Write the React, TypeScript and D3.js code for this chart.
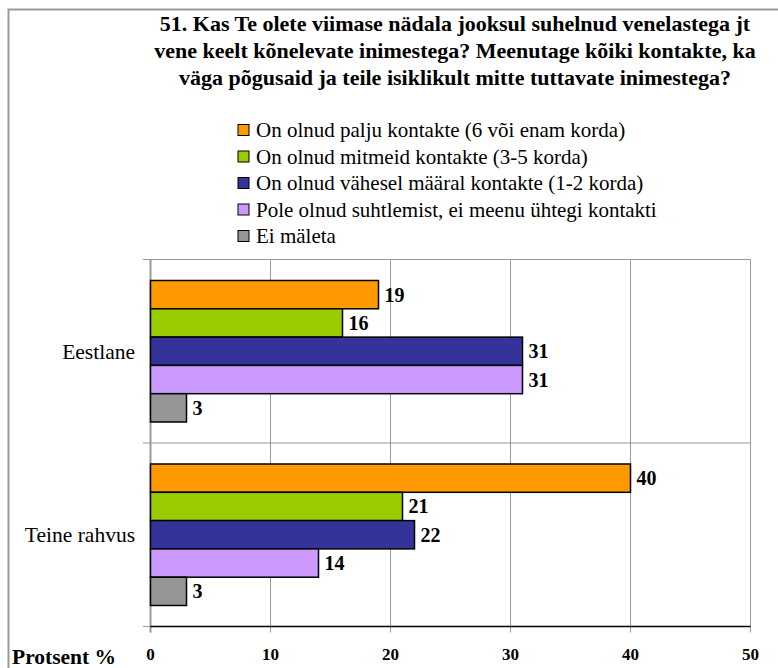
import React from "react";
import * as d3 from "d3";

const categories = ["Eestlane", "Teine rahvus"];
const seriesNames = [
  "On olnud palju kontakte (6 või enam korda)",
  "On olnud mitmeid kontakte (3-5 korda)",
  "On olnud vähesel määral kontakte (1-2 korda)",
  "Pole olnud suhtlemist, ei meenu ühtegi kontakti",
  "Ei mäleta",
];
const seriesColors = ["#FF9900", "#99CC00", "#333399", "#CC99FF", "#969696"];
// values per series, one per category
const values = [
  [19, 40],
  [16, 21],
  [31, 22],
  [31, 14],
  [3, 3],
];
const xTicks = [0, 10, 20, 30, 40, 50];
const titleLines = [
  "51. Kas Te olete viimase nädala jooksul suhelnud venelastega jt",
  "vene keelt kõnelevate inimestega? Meenutage kõiki kontakte, ka",
  "väga põgusaid ja teile isiklikult mitte tuttavate inimestega?",
];

const W = 778;
const H = 668;
const serif = "Liberation Serif, serif";

export default function App() {
  const left = 150.5;
  const right = 750.5;
  const top = 259.5;
  const bottom = 626.5;

  const x = d3.scaleLinear().domain([0, 50]).range([left, right]);
  const y = d3.scaleBand().domain(categories).range([top, bottom]).padding(0);
  const inner = d3
    .scaleBand()
    .domain(seriesNames)
    .range([21, y.bandwidth() - 21])
    .padding(0);

  const txt = { fontFamily: serif } as React.CSSProperties;

  return (
    <svg
      width={W}
      height={H}
      style={{ position: "absolute", left: 0, top: 0, background: "#fff" }}
    >
      {/* outer frame */}
      <path d={`M8.5,${H} V9.5 H${W}`} fill="none" stroke="#999" strokeWidth={2} />

      {/* title */}
      {titleLines.map((t, i) => (
        <text
          key={i}
          x={455}
          y={31 + i * 27}
          textAnchor="middle"
          fontWeight="bold"
          fontSize={22}
          style={txt}
        >
          {t}
        </text>
      ))}

      {/* legend */}
      {seriesNames.map((s, i) => (
        <g key={s} transform={`translate(238,${130 + i * 26.5})`}>
          <rect x={0} y={-5.5} width={11} height={11} fill={seriesColors[i]} stroke="#000" strokeWidth={1} />
          <text x={18} y={0} dy="0.35em" fontSize={21} style={txt}>
            {s}
          </text>
        </g>
      ))}

      {/* grid */}
      {xTicks.map((t) => (
        <line key={t} x1={x(t)} x2={x(t)} y1={top} y2={bottom + 6} stroke="#999" strokeWidth={1} />
      ))}
      <line x1={143} x2={right} y1={top} y2={top} stroke="#999" />
      {categories.map((c, i) =>
        i > 0 ? (
          <line key={c} x1={143} x2={right} y1={y(c)!} y2={y(c)!} stroke="#999" />
        ) : null
      )}
      <line x1={143} x2={left} y1={bottom} y2={bottom} stroke="#999" />
      <line x1={left} x2={left} y1={top} y2={bottom + 6} stroke="#999" strokeWidth={2} />

      {/* bars */}
      {categories.map((c, ci) => (
        <g key={c} transform={`translate(0,${y(c)})`}>
          {seriesNames.map((s, si) => {
            const v = values[si][ci];
            const by = inner(s)!;
            return (
              <g key={s}>
                <rect
                  x={x(0)}
                  y={by}
                  width={x(v) - x(0)}
                  height={inner.bandwidth()}
                  fill={seriesColors[si]}
                  stroke="#000"
                  strokeWidth={1.5}
                />
                <text
                  x={x(v) + 6}
                  y={by + inner.bandwidth() / 2}
                  dy="0.35em"
                  fontWeight="bold"
                  fontSize={20}
                  style={txt}
                >
                  {v}
                </text>
              </g>
            );
          })}
          <text
            x={135}
            y={y.bandwidth() / 2}
            dy="0.35em"
            textAnchor="end"
            fontSize={21.5}
            style={txt}
          >
            {c}
          </text>
        </g>
      ))}

      {/* x axis */}
      <line x1={left} x2={right} y1={bottom} y2={bottom} stroke="#000" strokeWidth={1.5} />
      {xTicks.map((t) => (
        <text key={t} x={x(t)} y={660} textAnchor="middle" fontWeight="bold" fontSize={17} style={txt}>
          {t}
        </text>
      ))}
      <text x={12} y={664} fontWeight="bold" fontSize={21.5} style={txt}>
        Protsent %
      </text>
    </svg>
  );
}
